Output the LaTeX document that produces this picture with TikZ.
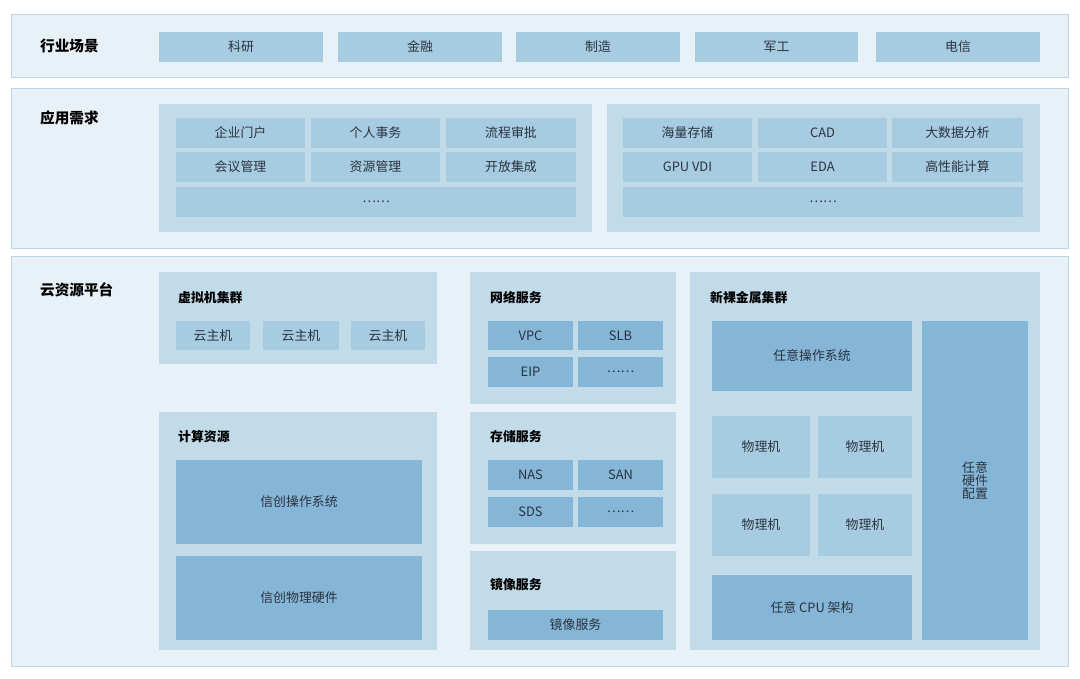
\documentclass[tikz,border=0pt]{standalone}
\usepackage{fontspec}
\setmainfont{Noto Sans CJK SC}
\usetikzlibrary{positioning}
\definecolor{bandbg}{HTML}{E8F1F7}
\definecolor{bandln}{HTML}{BCD6E5}
\definecolor{panelbg}{HTML}{C2DBE9}
\definecolor{cellbg}{HTML}{A7CBE1}
\definecolor{darkbg}{HTML}{85B5D7}
\definecolor{txt}{HTML}{2A3440}
% box from pixel corners: name, style, x1, y1, x2, y2, text
\newcommand{\pbox}[7]{%
  \pgfmathsetmacro{\cx}{(#3+#5)/2}\pgfmathsetmacro{\cy}{(#4+#6)/2}%
  \pgfmathsetmacro{\bw}{(#5-#3)*0.03}\pgfmathsetmacro{\bh}{(#6-#4)*0.03}%
  \node[#2,minimum width=\bw cm,minimum height=\bh cm] (#1) at (\cx,\cy) {#7};}
\begin{document}
\begin{tikzpicture}[x=0.03cm,y=-0.03cm,
  band/.style={draw=bandln,fill=bandbg,inner sep=0pt,line width=0.6pt},
  panel/.style={fill=panelbg,inner sep=0pt},
  cell/.style={fill=cellbg,inner sep=0pt,text=txt,font=\fontsize{11}{13}\selectfont},
  dark/.style={fill=darkbg,inner sep=0pt,text=txt,font=\fontsize{11}{13}\selectfont,align=center},
  head/.style={anchor=west,text=black,font=\fontsize{12.5}{15}\selectfont\bfseries},
  sub/.style={anchor=west,text=black,font=\fontsize{11}{13}\selectfont\bfseries}]
 \useasboundingbox (0,0) rectangle (1080,679);
 \fill[white] (0,0) rectangle (1080,679);

 % row 1
 \pbox{b1}{band}{11}{14}{1068}{77}{}
 \node[head] (h1) at (36,46) {行业场景};
 \pbox{s1}{cell}{159}{32}{323}{62}{科研}
 \pbox{s2}{cell}{338}{32}{502}{62}{金融}
 \pbox{s3}{cell}{516}{32}{680}{62}{制造}
 \pbox{s4}{cell}{695}{32}{858}{62}{军工}
 \pbox{s5}{cell}{876}{32}{1040}{62}{电信}

 % row 2
 \pbox{b2}{band}{11}{88}{1068}{248}{}
 \node[head] (h2) at (36,118) {应用需求};
 \pbox{ga}{panel}{159}{104}{592}{232}{}
 \pbox{gb}{panel}{607}{104}{1040}{232}{}
 \pbox{a1}{cell}{176}{118}{305}{148}{企业门户}
 \pbox{a2}{cell}{311}{118}{440}{148}{个人事务}
 \pbox{a3}{cell}{446}{118}{576}{148}{流程审批}
 \pbox{a4}{cell}{176}{152}{305}{182}{会议管理}
 \pbox{a5}{cell}{311}{152}{440}{182}{资源管理}
 \pbox{a6}{cell}{446}{152}{576}{182}{开放集成}
 \pbox{a7}{cell}{176}{187}{576}{217}{……}
 \pbox{c1}{cell}{623}{118}{752}{148}{海量存储}
 \pbox{c2}{cell}{758}{118}{887}{148}{CAD}
 \pbox{c3}{cell}{892}{118}{1023}{148}{大数据分析}
 \pbox{c4}{cell}{623}{152}{752}{182}{GPU VDI}
 \pbox{c5}{cell}{758}{152}{887}{182}{EDA}
 \pbox{c6}{cell}{892}{152}{1023}{182}{高性能计算}
 \pbox{c7}{cell}{623}{187}{1023}{217}{……}

 % row 3
 \pbox{b3}{band}{11}{256}{1068}{666}{}
 \node[head] (h3) at (36,290) {云资源平台};
 % vm cluster
 \pbox{vm}{panel}{159}{272}{437}{364}{}
 \node[sub] (vmt) at (174,298) {虚拟机集群};
 \pbox{v1}{cell}{176}{321}{250}{350}{云主机}
 \pbox{v2}{cell}{263}{321}{339}{350}{云主机}
 \pbox{v3}{cell}{351}{321}{425}{350}{云主机}
 % compute
 \pbox{cp}{panel}{159}{412}{437}{650}{}
 \node[sub] (cpt) at (174,437) {计算资源};
 \pbox{os}{dark}{176}{460}{422}{544}{信创操作系统}
 \pbox{hw}{dark}{176}{556}{422}{640}{信创物理硬件}
 % network
 \pbox{nw}{panel}{470}{272}{676}{404}{}
 \node[sub] (nwt) at (486,298) {网络服务};
 \pbox{n1}{dark}{488}{321}{573}{350}{VPC}
 \pbox{n2}{dark}{578}{321}{663}{350}{SLB}
 \pbox{n3}{dark}{488}{357}{573}{387}{EIP}
 \pbox{n4}{dark}{578}{357}{663}{387}{……}
 % storage
 \pbox{st}{panel}{470}{412}{676}{544}{}
 \node[sub] (stt) at (486,437) {存储服务};
 \pbox{t1}{dark}{488}{460}{573}{490}{NAS}
 \pbox{t2}{dark}{578}{460}{663}{490}{SAN}
 \pbox{t3}{dark}{488}{497}{573}{527}{SDS}
 \pbox{t4}{dark}{578}{497}{663}{527}{……}
 % image
 \pbox{im}{panel}{470}{551}{676}{650}{}
 \node[sub] (imt) at (486,585) {镜像服务};
 \pbox{i1}{dark}{488}{610}{663}{640}{镜像服务}
 % bare metal
 \pbox{bm}{panel}{690}{272}{1040}{650}{}
 \node[sub] (bmt) at (706,298) {新裸金属集群};
 \pbox{m0}{dark}{712}{321}{912}{391}{任意操作系统}
 \pbox{m1}{cell}{712}{416}{810}{478}{物理机}
 \pbox{m2}{cell}{818}{416}{912}{478}{物理机}
 \pbox{m3}{cell}{712}{494}{810}{556}{物理机}
 \pbox{m4}{cell}{818}{494}{912}{556}{物理机}
 \pbox{m5}{dark}{712}{575}{912}{640}{任意 CPU 架构}
 \pbox{m6}{dark}{922}{321}{1028}{640}{任意\\[-2pt]硬件\\[-2pt]配置}
\end{tikzpicture}
\end{document}
